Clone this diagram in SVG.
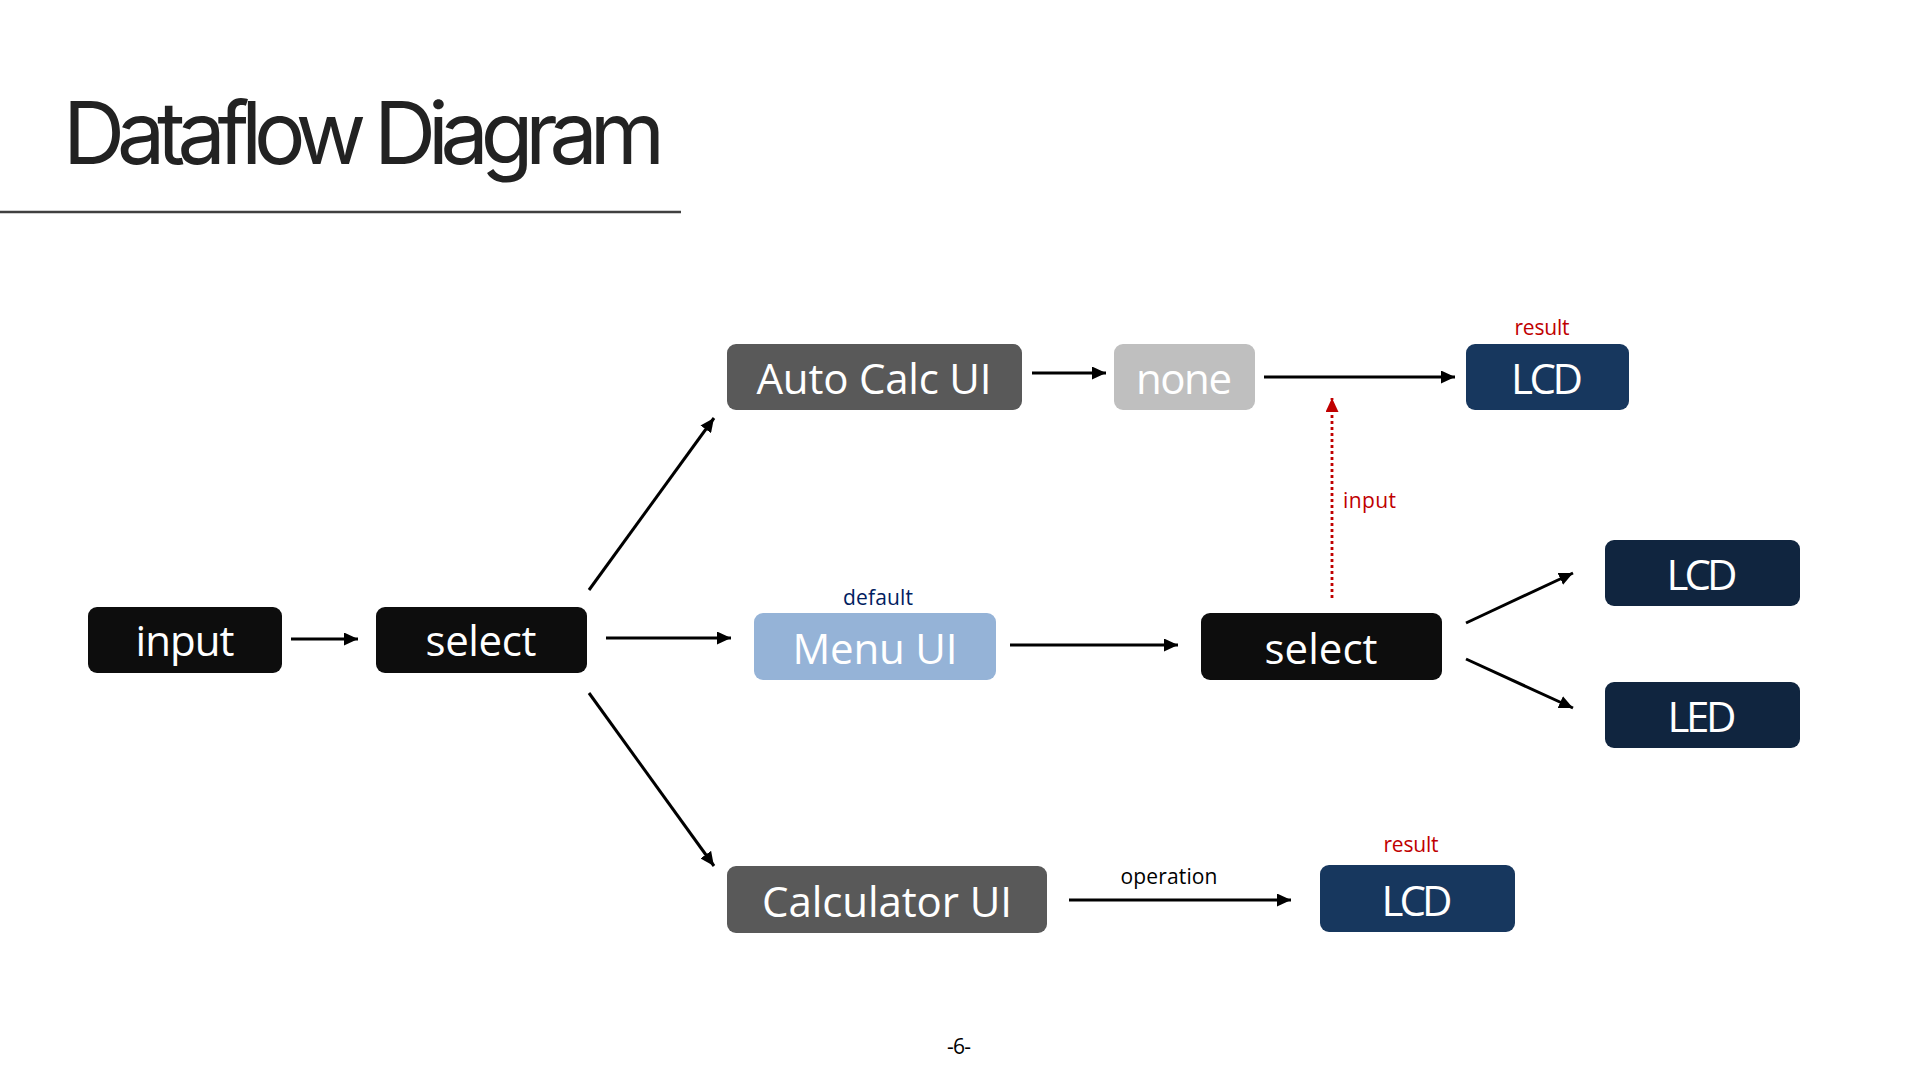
<svg xmlns="http://www.w3.org/2000/svg" width="1920" height="1080" viewBox="0 0 1920 1080">
<defs>
<marker id="ah" markerUnits="userSpaceOnUse" markerWidth="15" markerHeight="13" refX="14" refY="6.5" orient="auto">
<path d="M0,0 L14,6.5 L0,13 Z" fill="#000"/>
</marker>
<marker id="ahr" markerUnits="userSpaceOnUse" markerWidth="15" markerHeight="13" refX="14" refY="6.5" orient="auto">
<path d="M0,0 L14,6.5 L0,13 Z" fill="#c00000"/>
</marker>
</defs>
<style>
.lbl{font-family:"Open Sans","Noto Sans",sans-serif;font-size:42px;fill:#ffffff;text-anchor:middle}
.sm{font-family:"Open Sans","Noto Sans",sans-serif;font-size:21px;text-anchor:middle}
.conn{stroke:#000;stroke-width:3;fill:none;marker-end:url(#ah)}
</style>
<rect width="1920" height="1080" fill="#ffffff"/>
<text x="63" y="164" font-family="Inter,'Liberation Sans',sans-serif" font-size="86" font-weight="400" fill="#222222" letter-spacing="-4" textLength="598" lengthAdjust="spacing">Dataflow Diagram</text>
<line x1="0" y1="212" x2="681" y2="212" stroke="#404040" stroke-width="2.5"/>

<g id="n-input"><rect x="88" y="607" width="194" height="66" rx="9" fill="#0d0d0d"/><text class="lbl" x="185" y="656" textLength="99">input</text></g>
<g id="n-select1"><rect x="376" y="607" width="211" height="66" rx="9" fill="#0d0d0d"/><text class="lbl" x="481" y="656" textLength="111">select</text></g>
<g id="n-autocalc"><rect x="727" y="344" width="295" height="66" rx="9" fill="#595959"/><text class="lbl" x="874" y="394" textLength="235">Auto Calc UI</text></g>
<g id="n-none"><rect x="1114" y="344" width="141" height="66" rx="9" fill="#bfbfbf"/><text class="lbl" x="1184" y="394" textLength="96" fill="#f2f2f2">none</text></g>
<g id="n-lcd1"><rect x="1466" y="344" width="163" height="66" rx="9" fill="#17375e"/><text class="lbl" x="1547" y="394" textLength="72">LCD</text><text class="sm" x="1542" y="335" fill="#c00000" textLength="55">result</text></g>
<g id="n-menu"><rect x="754" y="613" width="242" height="67" rx="9" fill="#95b3d7"/><text class="lbl" x="875" y="664" textLength="165">Menu UI</text><text class="sm" x="878" y="605" fill="#002060" textLength="70">default</text></g>
<g id="n-select2"><rect x="1201" y="613" width="241" height="67" rx="9" fill="#0d0d0d"/><text class="lbl" x="1321" y="664" textLength="113">select</text></g>
<g id="n-lcd2"><rect x="1605" y="540" width="195" height="66" rx="9" fill="#10253f"/><text class="lbl" x="1702" y="590" textLength="71">LCD</text></g>
<g id="n-led"><rect x="1605" y="682" width="195" height="66" rx="9" fill="#10253f"/><text class="lbl" x="1702" y="732" textLength="69">LED</text></g>
<g id="n-calc"><rect x="727" y="866" width="320" height="67" rx="9" fill="#595959"/><text class="lbl" x="887" y="917" textLength="250">Calculator UI</text></g>
<g id="n-lcd3"><rect x="1320" y="865" width="195" height="67" rx="9" fill="#17375e"/><text class="lbl" x="1417" y="916" textLength="71">LCD</text><text class="sm" x="1411" y="852" fill="#c00000" textLength="55">result</text></g>

<g id="connectors">
<line class="conn" x1="291" y1="639" x2="358" y2="639"/>
<line class="conn" x1="606" y1="638" x2="731" y2="638"/>
<line class="conn" x1="589" y1="590" x2="714" y2="418"/>
<line class="conn" x1="589" y1="693" x2="714" y2="866"/>
<line class="conn" x1="1032" y1="373" x2="1106" y2="373"/>
<line class="conn" x1="1264" y1="377" x2="1455" y2="377"/>
<line class="conn" x1="1010" y1="645" x2="1178" y2="645"/>
<line class="conn" x1="1466" y1="623" x2="1573" y2="573"/>
<line class="conn" x1="1466" y1="659" x2="1573" y2="708"/>
<line class="conn" x1="1069" y1="900" x2="1291" y2="900"/>
<line x1="1332" y1="598" x2="1332" y2="398" stroke="#c00000" stroke-width="2.8" stroke-dasharray="3,3" fill="none" marker-end="url(#ahr)"/>
<text class="sm" x="1343" y="508" fill="#c00000" style="text-anchor:start" textLength="53">input</text>
<text class="sm" x="1169" y="884" fill="#000000" textLength="97">operation</text>
</g>
<text class="sm" x="959" y="1054" fill="#000000" textLength="24">-6-</text>
</svg>
